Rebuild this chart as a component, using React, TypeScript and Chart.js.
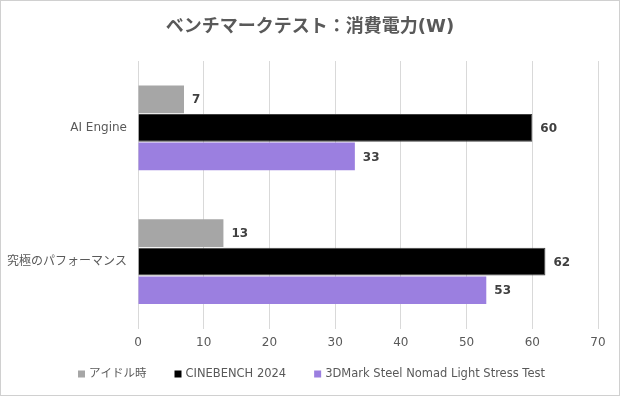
import React, { useEffect, useRef } from "react";
import { Chart, registerables } from "chart.js";

Chart.register(...registerables);

const titleText = "ベンチマークテスト：消費電力(W)";
const categories = ["AI Engine", "究極のパフォーマンス"];
const seriesNames = ["アイドル時", "CINEBENCH 2024", "3DMark Steel Nomad Light Stress Test"];
const idleValues = [7, 13];
const cinebenchValues = [60, 62];
const steelNomadValues = [33, 53];
const xTicks = [0, 10, 20, 30, 40, 50, 60, 70];

const FONT = "'DejaVu Sans', 'Noto Sans CJK JP', sans-serif";

const valueLabels = {
  id: "valueLabels",
  afterDatasetsDraw(chart: any) {
    const ctx = chart.ctx;
    ctx.save();
    ctx.font = `bold 12px ${FONT}`;
    ctx.fillStyle = "#404040";
    ctx.textAlign = "left";
    ctx.textBaseline = "middle";
    chart.data.datasets.forEach((ds: any, i: number) => {
      const meta = chart.getDatasetMeta(i);
      meta.data.forEach((bar: any, j: number) => {
        ctx.fillText(String(ds.data[j]), bar.x + 8, bar.y + 1);
      });
    });
    ctx.restore();
  },
};

const decorations = {
  id: "decorations",
  afterDraw(chart: any) {
    const ctx = chart.ctx;
    ctx.save();
    // title
    ctx.font = `bold 18px ${FONT}`;
    ctx.fillStyle = "#595959";
    ctx.textAlign = "center";
    ctx.textBaseline = "middle";
    ctx.fillText(titleText, chart.width / 2, 27);
    // legend
    ctx.font = `11.5px ${FONT}`;
    ctx.textAlign = "left";
    const box = 7;
    const boxGap = 4;
    const itemGap = 28;
    const items = chart.data.datasets.map((ds: any) => ({
      label: ds.label,
      color: ds.backgroundColor,
      w: box + boxGap + ctx.measureText(ds.label).width,
    }));
    const total = items.reduce((s: number, it: any) => s + it.w, 0) + itemGap * (items.length - 1);
    let x = Math.round(chart.width / 2 - total / 2) + 1;
    const y = 374;
    items.forEach((it: any) => {
      ctx.fillStyle = it.color;
      ctx.fillRect(x, y - box / 2, box, box);
      ctx.fillStyle = "#595959";
      ctx.fillText(it.label, x + box + boxGap, y);
      x += it.w + itemGap;
    });
    // frame
    ctx.strokeStyle = "#d0d0d0";
    ctx.lineWidth = 1;
    ctx.strokeRect(0.5, 0.5, chart.width - 1, chart.height - 1);
    ctx.restore();
  },
};

export default function App() {
  const ref = useRef<HTMLCanvasElement>(null);
  useEffect(() => {
    document.body.style.margin = "0";
    const chart = new Chart(ref.current!, {
      type: "bar",
      data: {
        labels: categories,
        datasets: [
          { label: seriesNames[0], data: idleValues, backgroundColor: "#a6a6a6", borderWidth: 0 },
          { label: seriesNames[1], data: cinebenchValues, backgroundColor: "#000000", borderColor: "#404040", borderWidth: 1 },
          { label: seriesNames[2], data: steelNomadValues, backgroundColor: "#9b7fe0", borderWidth: 0 },
        ],
      },
      options: {
        indexAxis: "y",
        responsive: false,
        animation: false,
        datasets: { bar: { categoryPercentage: 0.64, barPercentage: 0.97 } },
        layout: { padding: { left: 0, right: 22, top: 61, bottom: 39 } },
        scales: {
          x: {
            min: 0,
            max: 70,
            afterBuildTicks: (scale: any) => {
              scale.ticks = xTicks.map((v) => ({ value: v }));
            },
            grid: { color: "#d9d9d9", drawTicks: false },
            border: { display: false },
            ticks: { color: "#595959", font: { family: FONT, size: 12 }, padding: 7 },
          },
          y: {
            grid: { display: false, drawTicks: false },
            border: { display: false },
            afterFit: (scale: any) => {
              scale.width = 138;
            },
            ticks: { color: "#595959", font: { family: FONT, size: 12 }, padding: 11 },
          },
        },
        plugins: {
          title: { display: false },
          legend: { display: false },
          tooltip: { enabled: false },
        },
      },
      plugins: [valueLabels, decorations],
    });
    return () => chart.destroy();
  }, []);
  return (
    <div style={{ position: "relative", width: 620, height: 396 }}>
      <canvas ref={ref} width={620} height={396} />
    </div>
  );
}
